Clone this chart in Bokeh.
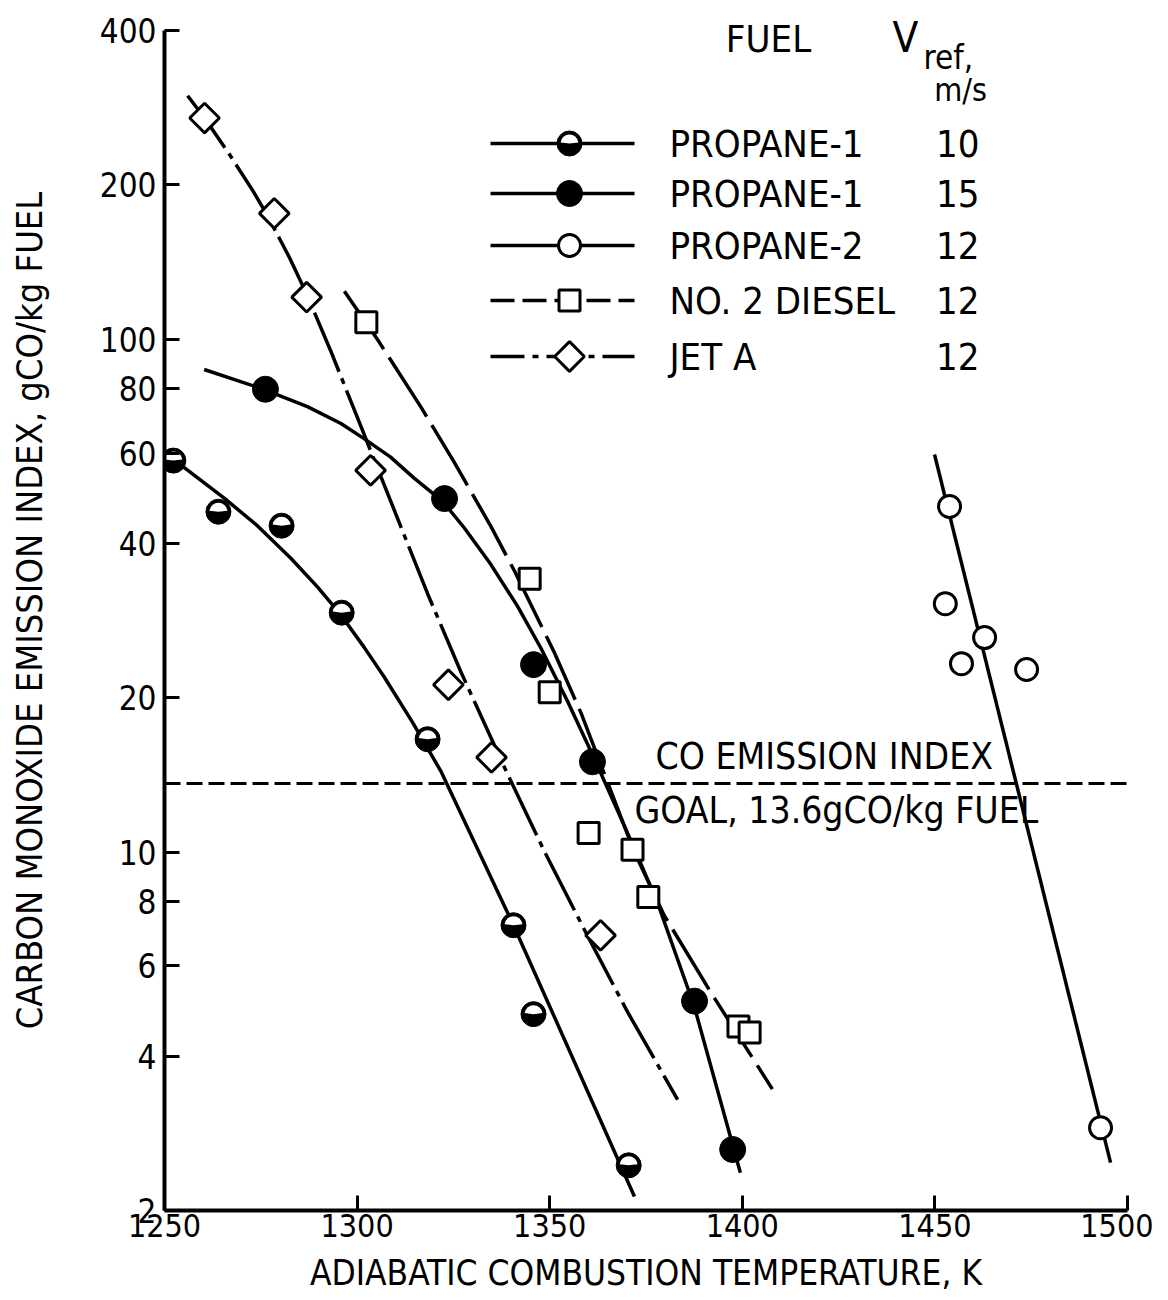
import math
from bokeh.plotting import figure
from bokeh.models import Range1d, LinearScale, FixedTicker, Span, Label
from bokeh.embed import file_html
from bokeh.resources import INLINE

# ---------------- data ----------------
x_ticks = [1250, 1300, 1350, 1400, 1450, 1500]
y_ticks = [2, 4, 6, 8, 10, 20, 40, 60, 80, 100, 200, 400]

# PROPANE-1, Vref 10 m/s (half-filled circles)
p1_10_T = [1252.3, 1264.0, 1280.4, 1296.0, 1318.3, 1340.6, 1345.8, 1370.5]
p1_10_v = [58.0, 46.1, 43.3, 29.3, 16.6, 7.2, 4.83, 2.45]
p1_10_curve_T = [1252.5, 1265.5, 1274.1, 1282.8, 1289.7, 1295.8, 1301.8, 1307.0,
                 1314.4, 1321.7, 1340.6, 1372.0]
p1_10_curve_v = [58.2, 49.0, 43.3, 37.4, 32.9, 29.0, 25.1, 21.97,
                 17.9, 14.4, 7.2, 2.13]

# PROPANE-1, Vref 15 m/s (filled circles)
p1_15_T = [1276.2, 1322.7, 1345.8, 1361.1, 1387.6, 1397.5]
p1_15_v = [79.9, 48.9, 23.2, 15.0, 5.12, 2.63]
p1_15_curve_T = [1260.3, 1275.9, 1287.1, 1295.8, 1301.8, 1308.7, 1314.8, 1322.2, 1327.8,
                 1334.7, 1341.6, 1347.7, 1354.6, 1361.6, 1371.9, 1378.0, 1387.5, 1399.5]
p1_15_curve_v = [87.3, 79.8, 73.9, 68.5, 64.0, 58.9, 53.6, 48.3, 42.9,
                 36.4, 30.2, 25.0, 19.7, 15.2, 10.2, 7.96, 5.01, 2.37]

# PROPANE-2, Vref 12 m/s (open circles)
p2_T = [1453.8, 1452.7, 1456.9, 1462.9, 1473.8, 1493.0]
p2_v = [47.2, 30.5, 23.3, 26.2, 22.7, 2.90]
p2_curve_T = [1449.9, 1495.6]
p2_curve_v = [59.6, 2.48]

# NO. 2 DIESEL, Vref 12 m/s (squares)
dsl_T = [1302.4, 1344.8, 1350.0, 1360.1, 1371.5, 1375.6, 1399.0, 1401.9]
dsl_v = [108.0, 34.1, 20.5, 10.9, 10.1, 8.17, 4.57, 4.45]
dsl_curve_T = [1296.7, 1305.3, 1316.5, 1325.2, 1334.7, 1340.8, 1351.2, 1358.1,
               1371.9, 1379.7, 1391.8, 1407.8]
dsl_curve_v = [124.1, 99.9, 73.9, 57.6, 43.2, 35.4, 24.5, 18.7,
               10.03, 7.53, 5.33, 3.45]

# JET A, Vref 12 m/s (diamonds)
jet_T = [1260.4, 1278.5, 1286.9, 1303.5, 1323.7, 1334.9, 1363.2]
jet_v = [270.0, 176.0, 120.8, 55.5, 21.2, 15.3, 6.88]
jet_curve_T = [1256.0, 1260.4, 1267.1, 1272.8, 1276.7, 1282.4, 1286.9, 1293.1, 1301.0,
               1304.6, 1318.3, 1326.9, 1338.3, 1348.6, 1359.8, 1370.2, 1383.2]
jet_curve_v = [298.4, 270.0, 227.9, 195.6, 174.4, 144.5, 122.5, 95.1, 67.6,
               57.8, 31.9, 22.5, 14.6, 10.04, 6.87, 4.88, 3.29]

goal_value = 13.6

legend_fuels = ["PROPANE-1", "PROPANE-1", "PROPANE-2", "NO. 2 DIESEL", "JET A"]
legend_vref = ["10", "15", "12", "12", "12"]

# ---------------- styles / layout ----------------
FONT = "DejaVu Sans Condensed"
LW = 3.5
TOP_PAD_PX = 20          # frame extends 20 px above the 400 tick (room for legend header)
PX_PER_DECADE = 512.0

p = figure(frame_width=963, frame_height=1200,
           x_range=Range1d(1250, 1500),
           y_range=Range1d(2, 400 * 10 ** (TOP_PAD_PX / PX_PER_DECADE)),
           y_axis_type="log", output_backend="svg", toolbar_location=None,
           min_border_left=164, min_border_right=26, min_border_top=10,
           min_border_bottom=80)
p.outline_line_color = None
p.xgrid.visible = False
p.ygrid.visible = False
p.background_fill_color = "white"

# overlay ranges (frame pixel positions) used only to place legend / notes
p.extra_x_ranges = {"px": Range1d(167, 1130)}
p.extra_y_ranges = {"py": Range1d(1210, 10)}
p.extra_y_scales = {"py": LinearScale()}

# axes
p.xaxis.ticker = FixedTicker(ticks=x_ticks)
p.yaxis.ticker = FixedTicker(ticks=y_ticks)
p.yaxis.bounds = (y_ticks[0], y_ticks[-1])
p.xaxis.major_label_overrides = {t: str(t) for t in x_ticks}
p.yaxis.major_label_overrides = {t: str(t) for t in y_ticks}
for ax in (p.xaxis, p.yaxis):
    ax.axis_line_width = 4
    ax.axis_line_color = "black"
    ax.major_tick_in = 15
    ax.major_tick_out = 0
    ax.major_tick_line_width = 3
    ax.major_tick_line_color = "black"
    ax.minor_tick_line_color = None
    ax.major_label_text_font = FONT
    ax.major_label_text_color = "black"
    ax.axis_label_text_font = FONT
    ax.axis_label_text_font_style = "normal"
    ax.axis_label_text_color = "black"
p.xaxis.axis_label_text_font_size = "35px"
p.yaxis.axis_label_text_font_size = "36px"
p.xaxis.major_label_text_font_size = "32px"
p.yaxis.major_label_text_font_size = "33px"
p.xaxis.major_label_standoff = 3
p.yaxis.major_label_standoff = 8
p.xaxis.axis_label = "ADIABATIC COMBUSTION TEMPERATURE, K"
p.yaxis.axis_label = "CARBON MONOXIDE EMISSION INDEX, gCO/kg FUEL"
p.xaxis.axis_label_standoff = 13
p.yaxis.axis_label_standoff = 47

# goal line
p.add_layout(Span(location=goal_value, dimension="width", line_color="black",
                  line_width=3, line_dash="16 6"))

# curves
p.line(p1_10_curve_T, p1_10_curve_v, line_color="black", line_width=LW)
p.line(p1_15_curve_T, p1_15_curve_v, line_color="black", line_width=LW)
p.line(p2_curve_T, p2_curve_v, line_color="black", line_width=LW)
p.line(dsl_curve_T, dsl_curve_v, line_color="black", line_width=LW, line_dash="70 10")
p.line(jet_curve_T, jet_curve_v, line_color="black", line_width=LW, line_dash="64 7 6 7")

# markers
HALF_R = 9
p.scatter(p1_10_T, p1_10_v, marker="circle", size=25, fill_color="black", line_color="black")
p.wedge(x=p1_10_T, y=p1_10_v, radius=HALF_R, radius_units="screen",
        start_angle=0.12, end_angle=math.pi - 0.12, fill_color="white", line_color=None)
p.scatter(p1_15_T, p1_15_v, marker="circle", size=26, fill_color="black", line_color="black")
p.scatter(p2_T, p2_v, marker="circle", size=22, fill_color="white", line_color="black", line_width=3)
p.scatter(dsl_T, dsl_v, marker="square", size=21, fill_color="white", line_color="black", line_width=3)
p.scatter(jet_T, jet_v, marker="square", size=21, angle=math.pi / 4, fill_color="white",
          line_color="black", line_width=3)

# ---------------- legend (placed in overlay pixel coordinates) ----------------
rows_y = [143, 193, 245, 300, 356]
lx0, lx1, lmx = 493, 637, 572
label_x, value_x = 672, 982
ovl = dict(x_range_name="px", y_range_name="py")

p.segment(x0=[lx0] * 3, y0=rows_y[:3], x1=[lx1] * 3, y1=rows_y[:3],
          line_color="black", line_width=LW, **ovl)
p.segment(x0=[lx0], y0=[rows_y[3]], x1=[lx1], y1=[rows_y[3]],
          line_color="black", line_width=LW, line_dash="24 8", **ovl)
p.segment(x0=[lx0], y0=[rows_y[4]], x1=[lx1], y1=[rows_y[4]],
          line_color="black", line_width=LW, line_dash="34 8 6 8", **ovl)

p.scatter([lmx], [rows_y[0]], marker="circle", size=25, fill_color="black", line_color="black", **ovl)
p.wedge(x=[lmx], y=[rows_y[0]], radius=HALF_R, radius_units="screen",
        start_angle=0.12, end_angle=math.pi - 0.12, fill_color="white", line_color=None, **ovl)
p.scatter([lmx], [rows_y[1]], marker="circle", size=26, fill_color="black", line_color="black", **ovl)
p.scatter([lmx], [rows_y[2]], marker="circle", size=22, fill_color="white", line_color="black",
          line_width=3, **ovl)
p.scatter([lmx], [rows_y[3]], marker="square", size=21, fill_color="white", line_color="black",
          line_width=3, **ovl)
p.scatter([lmx], [rows_y[4]], marker="square", size=21, angle=math.pi / 4, fill_color="white",
          line_color="black", line_width=3, **ovl)


def note(x, y, text, size, align="left"):
    p.add_layout(Label(x=x, y=y, text=text, text_font=FONT, text_font_size=size,
                       text_color="black", text_align=align, text_baseline="middle",
                       x_range_name="px", y_range_name="py"))


for yy, fuel, vref in zip(rows_y, legend_fuels, legend_vref):
    note(label_x, yy, fuel, "38px")
    note(value_x, yy, vref, "38px", align="right")

note(771, 38, "FUEL", "38px", align="center")
note(895, 37, "V", "42px")
note(926, 57, "ref,", "33px")
note(963, 89, "m/s", "32px", align="center")
note(658, 756, "CO EMISSION INDEX", "37px")
note(637, 810, "GOAL, 13.6gCO/kg FUEL", "37px")

open("out.html", "w").write(file_html(p, INLINE))
